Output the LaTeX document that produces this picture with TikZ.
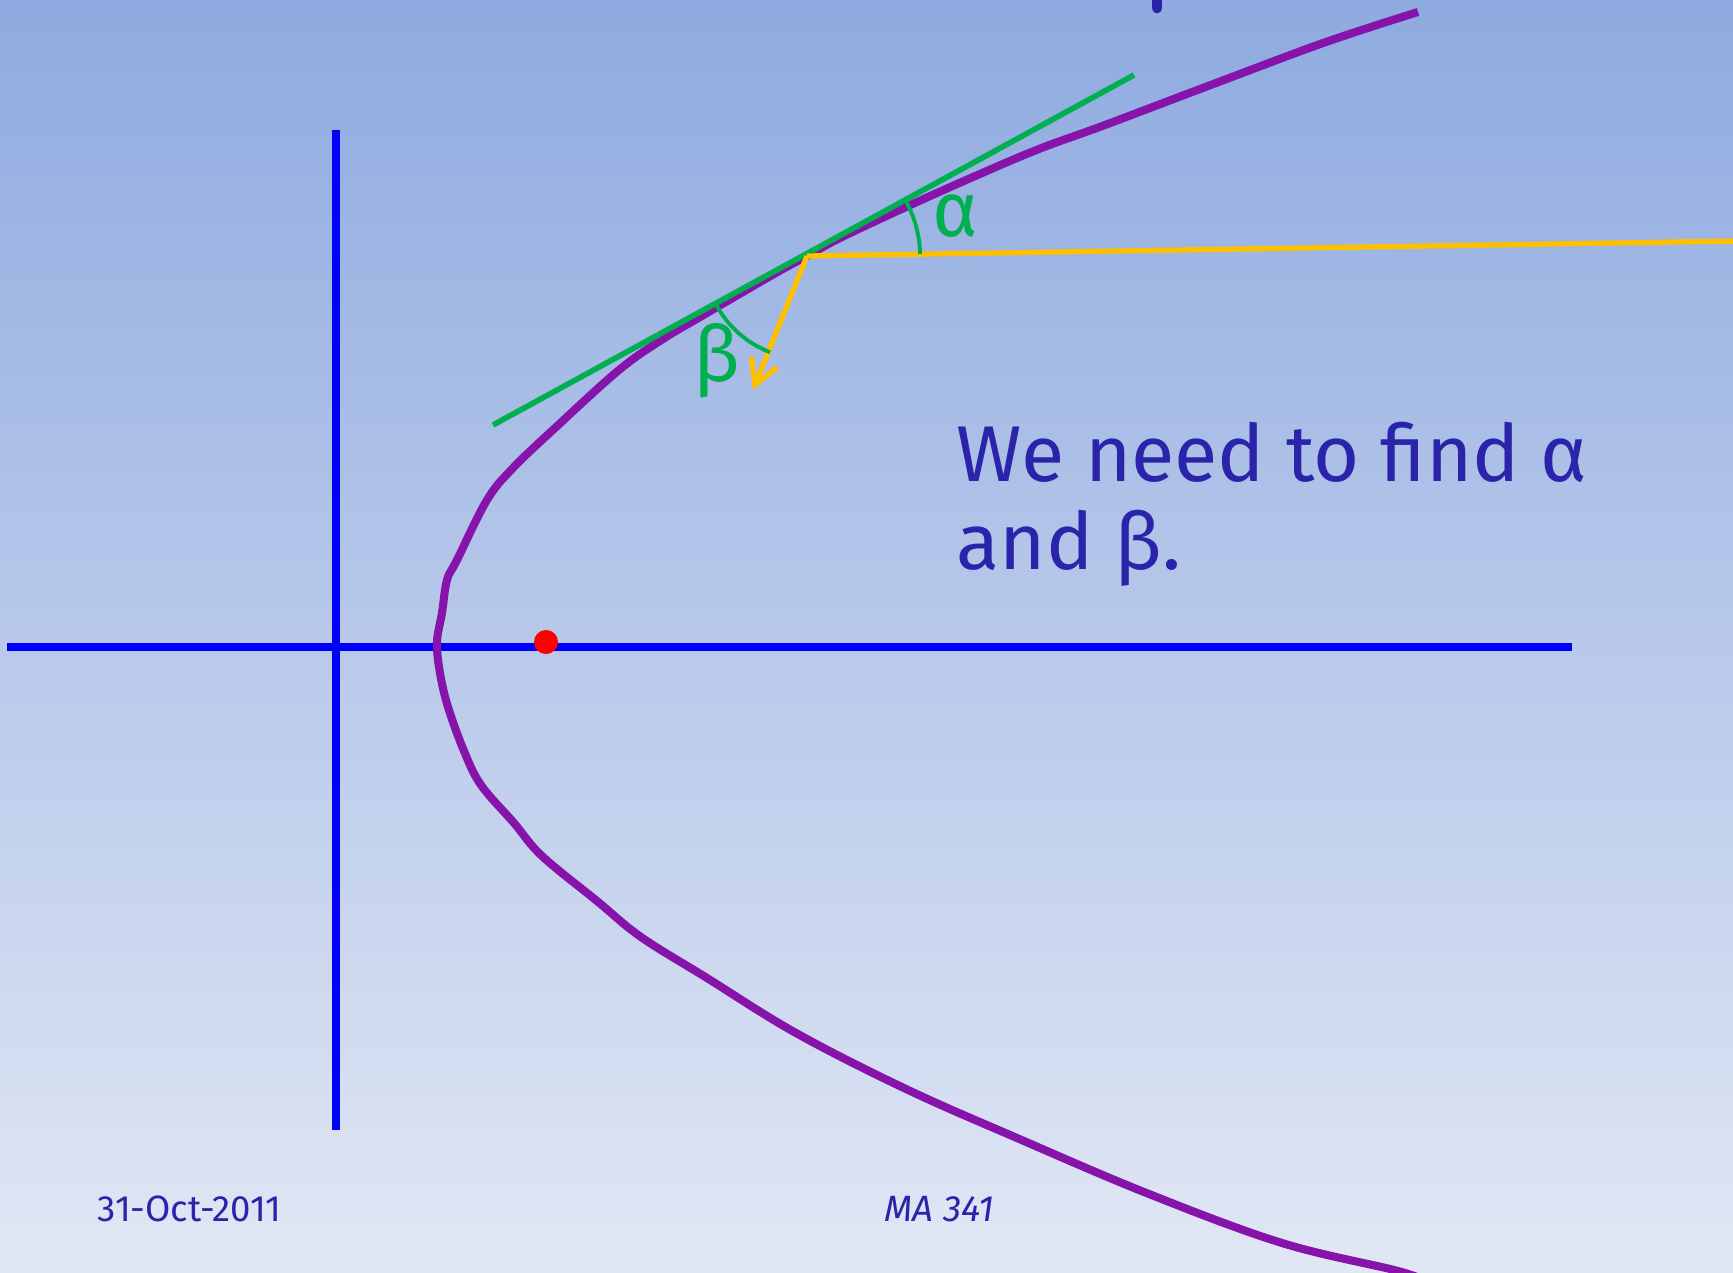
\documentclass[tikz,border=0pt]{standalone}
\usepackage{fontspec}
\setmainfont{Fira Sans}
\usepackage{tikz}
\usetikzlibrary{arrows.meta}
\definecolor{bgtop}{RGB}{142,170,224}
\definecolor{bgbot}{RGB}{225,231,244}
\definecolor{axisblue}{RGB}{0,0,250}
\definecolor{curvepurple}{RGB}{135,20,170}
\definecolor{tangentgreen}{RGB}{0,176,80}
\definecolor{rayorange}{RGB}{255,192,0}
\definecolor{textblue}{RGB}{42,36,170}

\begin{document}
\begin{tikzpicture}[x=0.01cm,y=-0.01cm,
  axis/.style={line width=2pt,draw=axisblue},
  ray/.style={line width=1.5pt,draw=rayorange},
  anglearc/.style={line width=1.1pt,draw=tangentgreen},
  slidetext/.style={text=textblue,inner sep=0pt,anchor=base west}]
\useasboundingbox (0,0) rectangle (1733,1273);
\shade[top color=bgtop,bottom color=bgbot] (0,0) rectangle (1733,1273);
\clip (0,0) rectangle (1733,1273);
% axes
\coordinate (xl) at (7,647);
\coordinate (xr) at (1572,647);
\coordinate (yt) at (336,130);
\coordinate (yb) at (336,1130);
\draw[axis] (xl) -- (xr);
\draw[axis] (yt) -- (yb);
% stroke of the cut-off title
\draw[line width=3.1pt,line cap=round,textblue] (1157,-20) -- (1157,8);
% parabola
\draw[line width=2.3pt,curvepurple] plot[smooth,tension=0.6] coordinates {
  (1418,12) (1326,42) (1216,83) (1105,125) (1039,149) (973,177) (906,207)
  (840,238) (807,256) (774,274) (707,313) (663,339) (619,370)
  (555,428) (513,468) (487,500) (457,560) (447,580) (442,613) (437,642)
  (440,673) (448,707) (464,751) (481,785) (514,823) (542,856) (597,901)
  (641,937) (707,978) (796,1033) (906,1089) (1017,1138) (1149,1194)
  (1282,1243) (1398,1271) (1430,1283)};
% focus
\fill[red] (546,642) circle[radius=1.2mm];
% tangent line and reflected ray
\coordinate (P) at (807,256);
\coordinate (tl) at (493,425);
\coordinate (tr) at (1134,75);
\coordinate (rayend) at (1740,241);
\coordinate (arrowtip) at (753,390);
\draw[line width=1.6pt,tangentgreen] (tl) -- (tr);
\draw[ray] (P) -- (rayend);
\draw[ray,-{Straight Barb[length=2.5mm,width=2.8mm]}] (P) -- (arrowtip);
% angles
\draw[anglearc] ([shift={(1:11.3mm)}]P) arc[start angle=1,end angle=28.6,radius=11.3mm];
\draw[anglearc] ([shift={(208.6:10.3mm)}]P) arc[start angle=208.6,end angle=249,radius=10.3mm];
\node[text=tangentgreen,font=\fontsize{22}{26}\selectfont,inner sep=0pt] (alphalbl) at (955,216) {α};
\node[text=tangentgreen,font=\fontsize{22}{26}\selectfont,inner sep=0pt] (betalbl) at (717,361) {β};
% text
\node[slidetext,font=\fontsize{22.5}{27}\selectfont] (msgtop) at (956,481) {We need to find α};
\node[slidetext,font=\fontsize{22.5}{27}\selectfont] (msgbot) at (956,569) {and β.};
\node[slidetext,font=\fontsize{10.4}{12}\selectfont] (date) at (97,1221) {31-Oct-2011};
\node[slidetext,font=\fontsize{10.4}{12}\selectfont\itshape] (course) at (884,1221) {MA 341};
\end{tikzpicture}
\end{document}
